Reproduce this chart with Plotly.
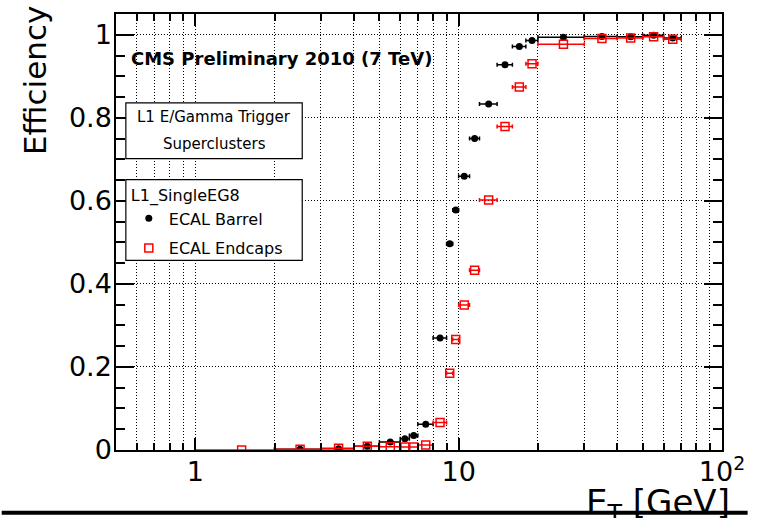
import plotly.graph_objects as go
import numpy as np

# ---------------- data ----------------
barrel_x = [2.5, 3.5, 4.5, 5.5, 6.25, 6.75, 7.5, 8.5, 9.25, 9.75, 10.5, 11.5, 13, 15, 17, 19, 25, 35, 45, 55, 65]
barrel_xerr = [0.5, 0.5, 0.5, 0.5, 0.25, 0.25, 0.5, 0.5, 0.25, 0.25, 0.5, 0.5, 1, 1, 1, 1, 5, 5, 5, 5, 5]
barrel_eff = [0.002, 0.003, 0.009, 0.019, 0.027, 0.035, 0.062, 0.270, 0.497, 0.578, 0.659, 0.750,
              0.833, 0.928, 0.972, 0.986, 0.994, 0.996, 0.995, 0.999, 0.992]

endcap_x = [1.5, 2.5, 3.5, 4.5, 5.5, 6.25, 6.75, 7.5, 8.5, 9.25, 9.75, 10.5, 11.5, 13, 15, 17, 19, 25, 35, 45, 55, 65]
endcap_xerr = [0.5, 0.5, 0.5, 0.5, 0.5, 0.25, 0.25, 0.5, 0.5, 0.25, 0.25, 0.5, 0.5, 1, 1, 1, 1, 5, 5, 5, 5, 5]
endcap_eff = [0.0, 0.002, 0.004, 0.009, 0.008, 0.007, 0.007, 0.012, 0.066, 0.185, 0.266, 0.349, 0.433,
              0.602, 0.779, 0.874, 0.930, 0.977, 0.991, 0.992, 0.995, 0.989]

y_ticks = [0, 0.2, 0.4, 0.6, 0.8, 1.0]
y_ticktext = ["0", "0.2", "0.4", "0.6", "0.8", "1"]
x_major = [1, 10, 100]
x_major_text = ["1", "10", "10<sup>2</sup>"]
x_minor = [0.5, 0.6, 0.7, 0.8, 0.9, 2, 3, 4, 5, 6, 7, 8, 9, 20, 30, 40, 50, 60, 70, 80, 90]

FONT = "DejaVu Sans"
GRIDDASH = "1px,2px"

# ---------------- figure ----------------
fig = go.Figure()

fig.add_trace(go.Scatter(
    x=barrel_x, y=barrel_eff, mode="markers", name="ECAL Barrel", legendgroup="a",
    marker=dict(symbol="circle", size=7, color="black"),
    error_x=dict(type="data", array=barrel_xerr, color="black", thickness=1.5, width=2),
))
fig.add_trace(go.Scatter(
    x=endcap_x, y=endcap_eff, mode="markers", name="ECAL Endcaps", legendgroup="b",
    marker=dict(symbol="square-open", size=8, color="red", line=dict(color="red", width=1.5)),
    error_x=dict(type="data", array=endcap_xerr, color="red", thickness=1.5, width=2),
))

L, R, T, B = 116, 26, 13, 68
W, H = 757, 518
pw, ph = W - L - R, H - T - B

def px(xp):
    return (xp - L) / pw

def py(yp):
    return (H - B - yp) / ph

fig.update_layout(
    width=W, height=H,
    margin=dict(l=L, r=R, t=T, b=B, pad=0),
    paper_bgcolor="white", plot_bgcolor="white",
    font=dict(family=FONT, color="black"),
    showlegend=True,
    legend=dict(
        x=px(129), y=py(180), xanchor="left", yanchor="top",
        bgcolor="rgba(0,0,0,0)", borderwidth=0,
        font=dict(family=FONT, size=16, color="black"),
        title=dict(text="L1_SingleEG8", font=dict(family=FONT, size=16, color="black")),
        tracegroupgap=6, itemwidth=30,
    ),
    xaxis=dict(
        type="log", range=[np.log10(0.5), 2],
        tickmode="array", tickvals=x_major, ticktext=x_major_text,
        ticks="inside", ticklen=12, tickwidth=1.5, tickcolor="black",
        showline=True, linecolor="black", linewidth=1.5, mirror="ticks",
        showgrid=True, gridcolor="black", griddash=GRIDDASH, gridwidth=1,
        tickfont=dict(family=FONT, size=27, color="black"),
        ticklabelstandoff=-3,
        minor=dict(tickmode="array", tickvals=x_minor, ticks="inside", ticklen=7,
                   tickwidth=1.5, tickcolor="black", showgrid=True,
                   gridcolor="black", griddash=GRIDDASH, gridwidth=1),
        zeroline=False,
    ),
    yaxis=dict(
        range=[0, 1.05],
        tickmode="array", tickvals=y_ticks, ticktext=y_ticktext,
        ticks="inside", ticklen=18, tickwidth=1.5, tickcolor="black",
        showline=True, linecolor="black", linewidth=1.5, mirror="ticks",
        showgrid=True, gridcolor="black", griddash=GRIDDASH, gridwidth=1,
        tickfont=dict(family=FONT, size=27, color="black"),
        ticklabelstandoff=-3,
        minor=dict(dtick=0.05, tick0=0, ticks="inside", ticklen=9, tickwidth=1.5,
                   tickcolor="black", showgrid=False),
        zeroline=False,
    ),
)

# legend / info boxes
fig.add_shape(type="rect", xref="paper", yref="paper",
              x0=px(126), x1=px(305), y0=py(158), y1=py(102),
              line=dict(color="black", width=1.2), fillcolor="white", layer="above")
fig.add_shape(type="rect", xref="paper", yref="paper",
              x0=px(126), x1=px(305), y0=py(260), y1=py(179),
              line=dict(color="black", width=1.2), fillcolor="white", layer="above")
# bottom slide line
fig.add_shape(type="line", xref="paper", yref="paper",
              x0=px(0), x1=px(757), y0=py(513), y1=py(513),
              line=dict(color="black", width=4), layer="above")

fig.add_annotation(text="L1 E/Gamma Trigger", xref="paper", yref="paper",
                   x=px(215.5), y=py(116), xanchor="center", yanchor="middle",
                   showarrow=False, font=dict(family=FONT, size=15, color="black"))
fig.add_annotation(text="Superclusters", xref="paper", yref="paper",
                   x=px(215.5), y=py(143), xanchor="center", yanchor="middle",
                   showarrow=False, font=dict(family=FONT, size=15, color="black"))
fig.add_annotation(text="<b>CMS Preliminary 2010 (7 TeV)</b>", xref="paper", yref="paper",
                   x=px(129), y=py(58), xanchor="left", yanchor="middle",
                   showarrow=False, font=dict(family=FONT, size=18, color="black"))
fig.add_annotation(text="Efficiency", xref="paper", yref="paper",
                   x=px(34), y=py(80), xanchor="center", yanchor="middle", textangle=-90,
                   showarrow=False, font=dict(family=FONT, size=31, color="black"))
fig.add_annotation(text="E<sub>T</sub> [GeV]", xref="paper", yref="paper",
                   x=px(741), y=py(505), xanchor="right", yanchor="middle",
                   showarrow=False, font=dict(family=FONT, size=34, color="black"))

fig.write_html("out.html")
